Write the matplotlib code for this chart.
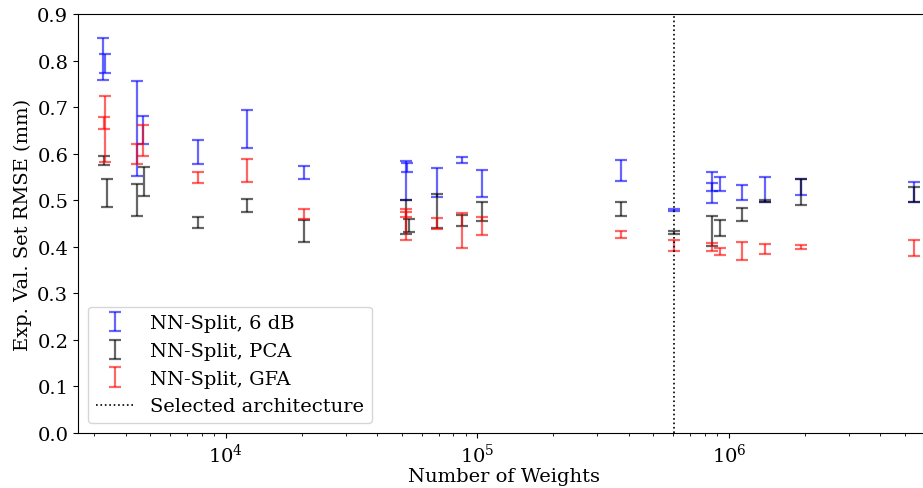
import matplotlib
matplotlib.use("Agg")
import matplotlib.pyplot as plt
import numpy as np

plt.rcParams['font.family'] = ['DejaVu Serif']
plt.rcParams['mathtext.fontset'] = 'dejavuserif'

# NN-Split, 6 dB
blue_x = [3257, 3318, 4415, 4691, 7719, 12086, 20430, 51960, 52440, 69220, 87000,
          103900, 371000, 604400, 855700, 855700, 920900, 1130000, 1390000, 1928000, 5456000]
blue_y = [0.803, 0.794, 0.654, 0.651, 0.603, 0.653, 0.560, 0.542, 0.571, 0.538, 0.586,
          0.536, 0.564, 0.479, 0.527, 0.529, 0.535, 0.516, 0.523, 0.528, 0.518]
blue_e = [0.045, 0.020, 0.102, 0.030, 0.026, 0.040, 0.014, 0.042, 0.010, 0.031, 0.007,
          0.029, 0.023, 0.002, 0.034, 0.009, 0.015, 0.016, 0.026, 0.017, 0.021]

# NN-Split, PCA
pca_x = [3272, 3364, 4415, 4734, 7719, 12086, 20430, 51960, 53410, 69220, 87000,
         103900, 371000, 604400, 855700, 920900, 1130000, 1390000, 1928000, 5456000]
pca_y = [0.585, 0.516, 0.501, 0.540, 0.452, 0.488, 0.434, 0.464, 0.445, 0.477, 0.456,
         0.476, 0.481, 0.430, 0.434, 0.440, 0.469, 0.499, 0.517, 0.513]
pca_e = [0.009, 0.030, 0.034, 0.032, 0.011, 0.014, 0.023, 0.036, 0.014, 0.036, 0.012,
         0.020, 0.015, 0.003, 0.033, 0.017, 0.014, 0.002, 0.028, 0.016]

# NN-Split, GFA
gfa_x = [3318, 3272, 4415, 4691, 7719, 12086, 20430, 51960, 51960, 69220, 87000,
         103900, 371000, 604400, 855700, 920900, 1130000, 1390000, 1928000, 5456000]
gfa_y = [0.653, 0.665, 0.599, 0.629, 0.549, 0.564, 0.470, 0.473, 0.444, 0.450, 0.435,
         0.444, 0.426, 0.403, 0.400, 0.390, 0.391, 0.395, 0.400, 0.397]
gfa_e = [0.070, 0.013, 0.022, 0.033, 0.011, 0.024, 0.011, 0.009, 0.030, 0.011, 0.037,
         0.019, 0.007, 0.011, 0.008, 0.008, 0.019, 0.010, 0.004, 0.017]

selected_x = 604400

W, H = 923, 489
fig = plt.figure(figsize=(W / 100, H / 100), dpi=100)
ax = fig.add_axes([78 / W, 55 / H, 852 / W, 419 / H])

kw = dict(fmt='none', capsize=4.5, elinewidth=1.6, capthick=1.6, alpha=0.6)
h1 = ax.errorbar(blue_x, blue_y, yerr=blue_e, ecolor='b', label='NN-Split, 6 dB', **kw)
h2 = ax.errorbar(pca_x, pca_y, yerr=pca_e, ecolor='k', label='NN-Split, PCA', **kw)
h3 = ax.errorbar(gfa_x, gfa_y, yerr=gfa_e, ecolor='r', label='NN-Split, GFA', **kw)
h4 = ax.axvline(selected_x, color='k', linestyle=':', linewidth=1.2, label='Selected architecture')

ax.set_xscale('log')
ax.set_xlim(2580, 6.3e6)
ax.set_ylim(0, 0.9)
ax.set_yticks(np.arange(0, 0.91, 0.1))
ax.set_yticklabels([f"{v:.1f}" for v in np.arange(0, 0.91, 0.1)])
ax.tick_params(labelsize=14)
ax.set_xlabel('Number of Weights', fontsize=14, labelpad=1)
ax.set_ylabel('Exp. Val. Set RMSE (mm)', fontsize=14)
ax.legend(handles=[h1, h2, h3, h4], loc='lower left', fontsize=14)

fig.savefig('out.png', dpi=100)
